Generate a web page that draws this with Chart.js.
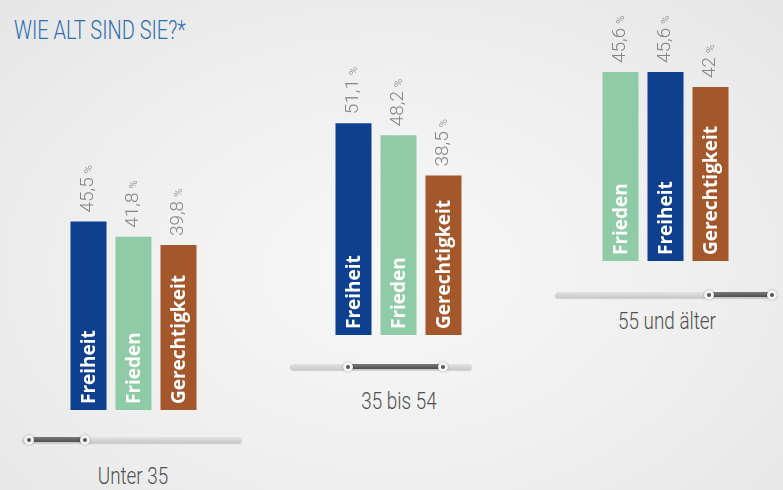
<!DOCTYPE html>
<html>
<head>
<meta charset="utf-8">
<script src="https://cdn.jsdelivr.net/npm/chart.js@4"></script>
<style>
  html, body { margin: 0; padding: 0; }
  body {
    width: 783px; height: 490px; position: relative; overflow: hidden;
    background: radial-gradient(ellipse at 50% 55%, #f8f8f8 0%, #efefef 55%, #e6e6e6 100%);
    font-family: Roboto, "Open Sans", sans-serif;
  }
  canvas { position: absolute; }
  .title {
    position: absolute; left: 14px; top: 16px; font-size: 25px; font-weight: 300;
    color: #2c6db4; transform: scaleX(0.8); transform-origin: left top; white-space: nowrap;
  }
  .track {
    position: absolute; height: 6px; border-radius: 3px;
    background: linear-gradient(#e4e4e4, #c8c8c8);
    box-shadow: 0 1px 1px rgba(0,0,0,0.15);
  }
  .range {
    position: absolute; height: 5px; background: linear-gradient(#7a7a7a, #4e4e4e);
  }
  .knob {
    position: absolute; width: 10px; height: 10px; border-radius: 50%;
    background: #f4f4f4; box-shadow: 0 0 2px rgba(0,0,0,0.35);
  }
  .knob::after {
    content: ""; position: absolute; left: 3px; top: 3px; width: 4px; height: 4px;
    border-radius: 50%; background: #555;
  }
  .group {
    position: absolute; font-size: 23px; font-weight: 300; color: #505050;
    transform: translateX(-50%) scaleX(0.82); white-space: nowrap;
  }
</style>
</head>
<body>
<div class="title">WIE ALT SIND SIE?*</div>

<canvas id="g1" width="135" height="290" style="left:66px; top:120px"></canvas>
<canvas id="g2" width="135" height="290" style="left:331px; top:45px"></canvas>
<canvas id="g3" width="135" height="290" style="left:598px; top:-29px"></canvas>

<div class="track" style="left:22px; top:437px; width:220px"></div>
<div class="range" style="left:29px; top:437px; width:56px"></div>
<div class="knob" style="left:24px; top:435px"></div>
<div class="knob" style="left:80px; top:435px"></div>
<div class="group" style="left:133px; top:463px">Unter 35</div>

<div class="track" style="left:290px; top:364px; width:182px"></div>
<div class="range" style="left:348px; top:364px; width:95px"></div>
<div class="knob" style="left:343px; top:362px"></div>
<div class="knob" style="left:438px; top:362px"></div>
<div class="group" style="left:399px; top:388px">35 bis 54</div>

<div class="track" style="left:555px; top:292px; width:222px"></div>
<div class="range" style="left:709px; top:292px; width:63px"></div>
<div class="knob" style="left:704px; top:290px"></div>
<div class="knob" style="left:767px; top:290px"></div>
<div class="group" style="left:667px; top:308px">55 und älter</div>

<script>
const groups = ['Unter 35', '35 bis 54', '55 und älter'];

const labelsU35 = ['Freiheit', 'Frieden', 'Gerechtigkeit'];
const valuesU35 = [45.5, 41.8, 39.8];

const labels35to54 = ['Freiheit', 'Frieden', 'Gerechtigkeit'];
const values35to54 = [51.1, 48.2, 38.5];

const labels55 = ['Frieden', 'Freiheit', 'Gerechtigkeit'];
const values55 = [45.6, 45.6, 42];

const colors = {
  'Freiheit': '#0f3f8f',
  'Frieden': '#8ecba6',
  'Gerechtigkeit': '#a3572b'
};

const barText = {
  id: 'barText',
  afterDatasetsDraw(chart) {
    const ctx = chart.ctx;
    const meta = chart.getDatasetMeta(0);
    const data = chart.data.datasets[0].data;
    meta.data.forEach((bar, i) => {
      const { x, y, base } = bar.getProps(['x', 'y', 'base'], true);

      // value above the bar
      ctx.save();
      ctx.translate(x, y - 9);
      ctx.rotate(-Math.PI / 2);
      ctx.textBaseline = 'middle';
      ctx.textAlign = 'left';
      ctx.fillStyle = '#858585';
      ctx.font = '300 19px Roboto';
      const txt = String(data[i]).replace('.', ',');
      ctx.fillText(txt, 0, 0);
      const w = ctx.measureText(txt).width;
      ctx.font = '300 11px Roboto';
      ctx.fillText('%', w + 4, 1);
      ctx.restore();

      // name inside the bar
      ctx.save();
      ctx.translate(x, base - 6);
      ctx.rotate(-Math.PI / 2);
      ctx.textBaseline = 'middle';
      ctx.textAlign = 'left';
      ctx.fillStyle = '#ffffff';
      ctx.font = '700 19px "Open Sans"';
      ctx.fillText(chart.data.labels[i], 0, 1);
      ctx.restore();
    });
  }
};

function makeChart(id, labels, values) {
  return new Chart(document.getElementById(id), {
    type: 'bar',
    data: {
      labels: labels,
      datasets: [{
        data: values,
        backgroundColor: labels.map(l => colors[l]),
        borderWidth: 0,
        categoryPercentage: 1,
        barPercentage: 0.8
      }]
    },
    options: {
      responsive: false,
      animation: false,
      layout: { padding: 0 },
      plugins: { legend: { display: false }, tooltip: { enabled: false } },
      scales: {
        x: { display: false },
        y: { display: false, min: 0, max: 70 }
      }
    },
    plugins: [barText]
  });
}

makeChart('g1', labelsU35, valuesU35);
makeChart('g2', labels35to54, values35to54);
makeChart('g3', labels55, values55);
</script>
</body>
</html>
